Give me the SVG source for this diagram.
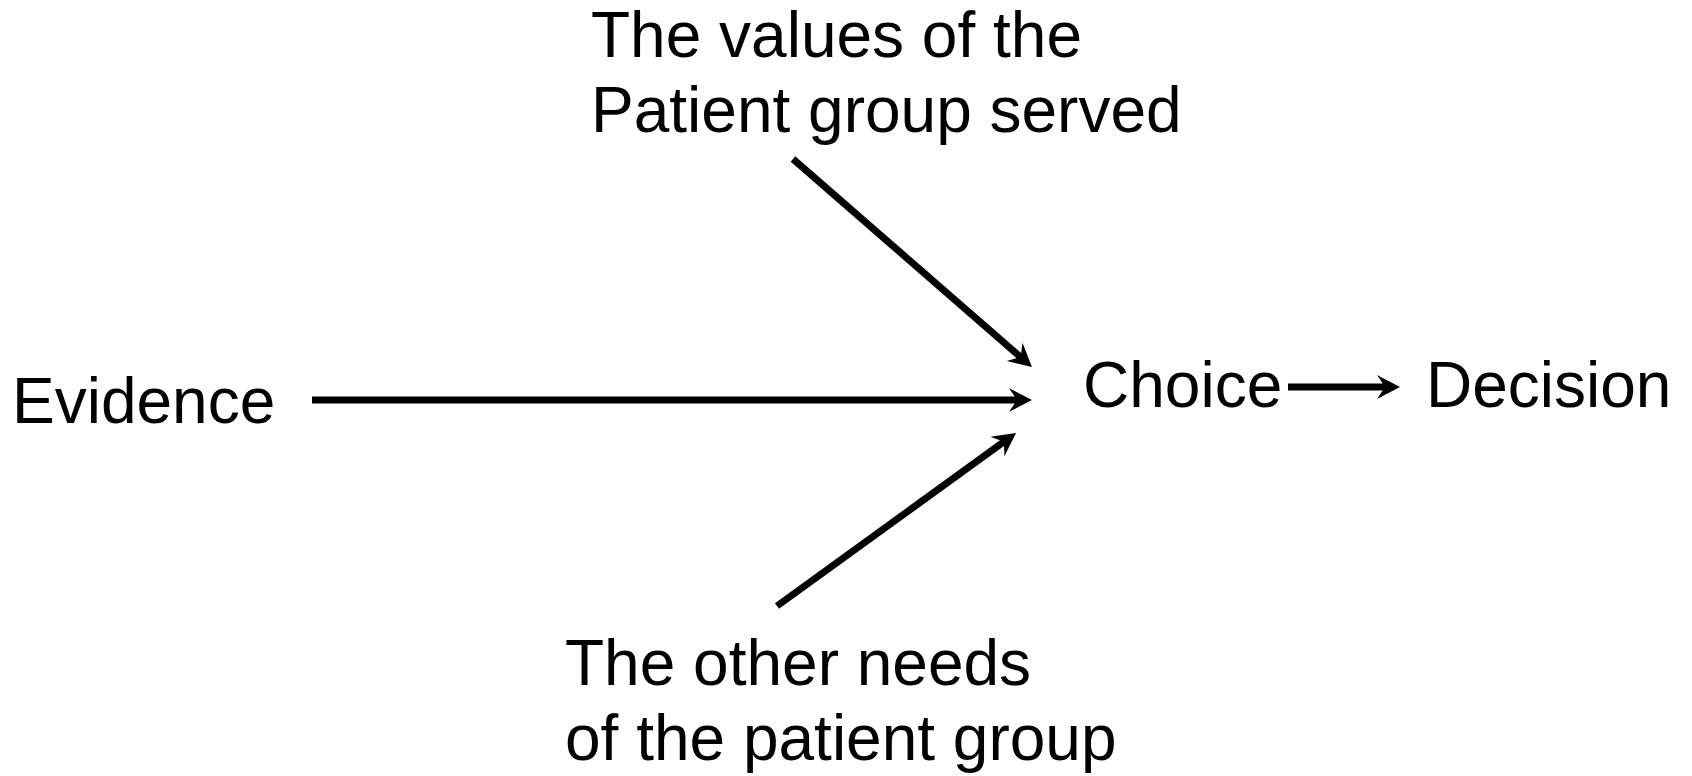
<svg xmlns="http://www.w3.org/2000/svg" width="1692" height="776" viewBox="0 0 1692 776">
  <style>
    .label { font-family: "Liberation Sans", Arial, sans-serif; font-size: 64px; fill: #000; }
    .conn { stroke: #000; stroke-width: 7; fill: none; marker-end: url(#arrow); }
  </style>
  <defs>
    <!-- notched arrowhead; tip at (0,0), line meets it at the notch -->
    <marker id="arrow" markerUnits="userSpaceOnUse" viewBox="-26 -14 28 28" markerWidth="28" markerHeight="28" refX="-14" refY="0" orient="auto">
      <path d="M0,0 L-23,-12 L-15,0 L-23,12 Z" fill="#000"/>
    </marker>
  </defs>
  <rect width="1692" height="776" fill="#fff"/>

  <g id="connectors">
    <line class="conn" x1="312" y1="400" x2="1018" y2="400"/>
    <line class="conn" x1="793" y1="159" x2="1021.4" y2="357.8"/>
    <line class="conn" x1="777" y1="606" x2="1004.7" y2="441.2"/>
    <line class="conn" x1="1288" y1="387" x2="1386" y2="387"/>
  </g>

  <g id="evidence">
    <text class="label" x="12" y="423">Evidence</text>
  </g>
  <g id="values">
    <text class="label" x="591" y="57">The values of the</text>
    <text class="label" x="591" y="132">Patient group served</text>
  </g>
  <g id="needs">
    <text class="label" x="565" y="685">The other needs</text>
    <text class="label" x="565" y="760">of the patient group</text>
  </g>
  <g id="choice">
    <text class="label" x="1083" y="407">Choice</text>
  </g>
  <g id="decision">
    <text class="label" x="1426" y="407">Decision</text>
  </g>
</svg>
